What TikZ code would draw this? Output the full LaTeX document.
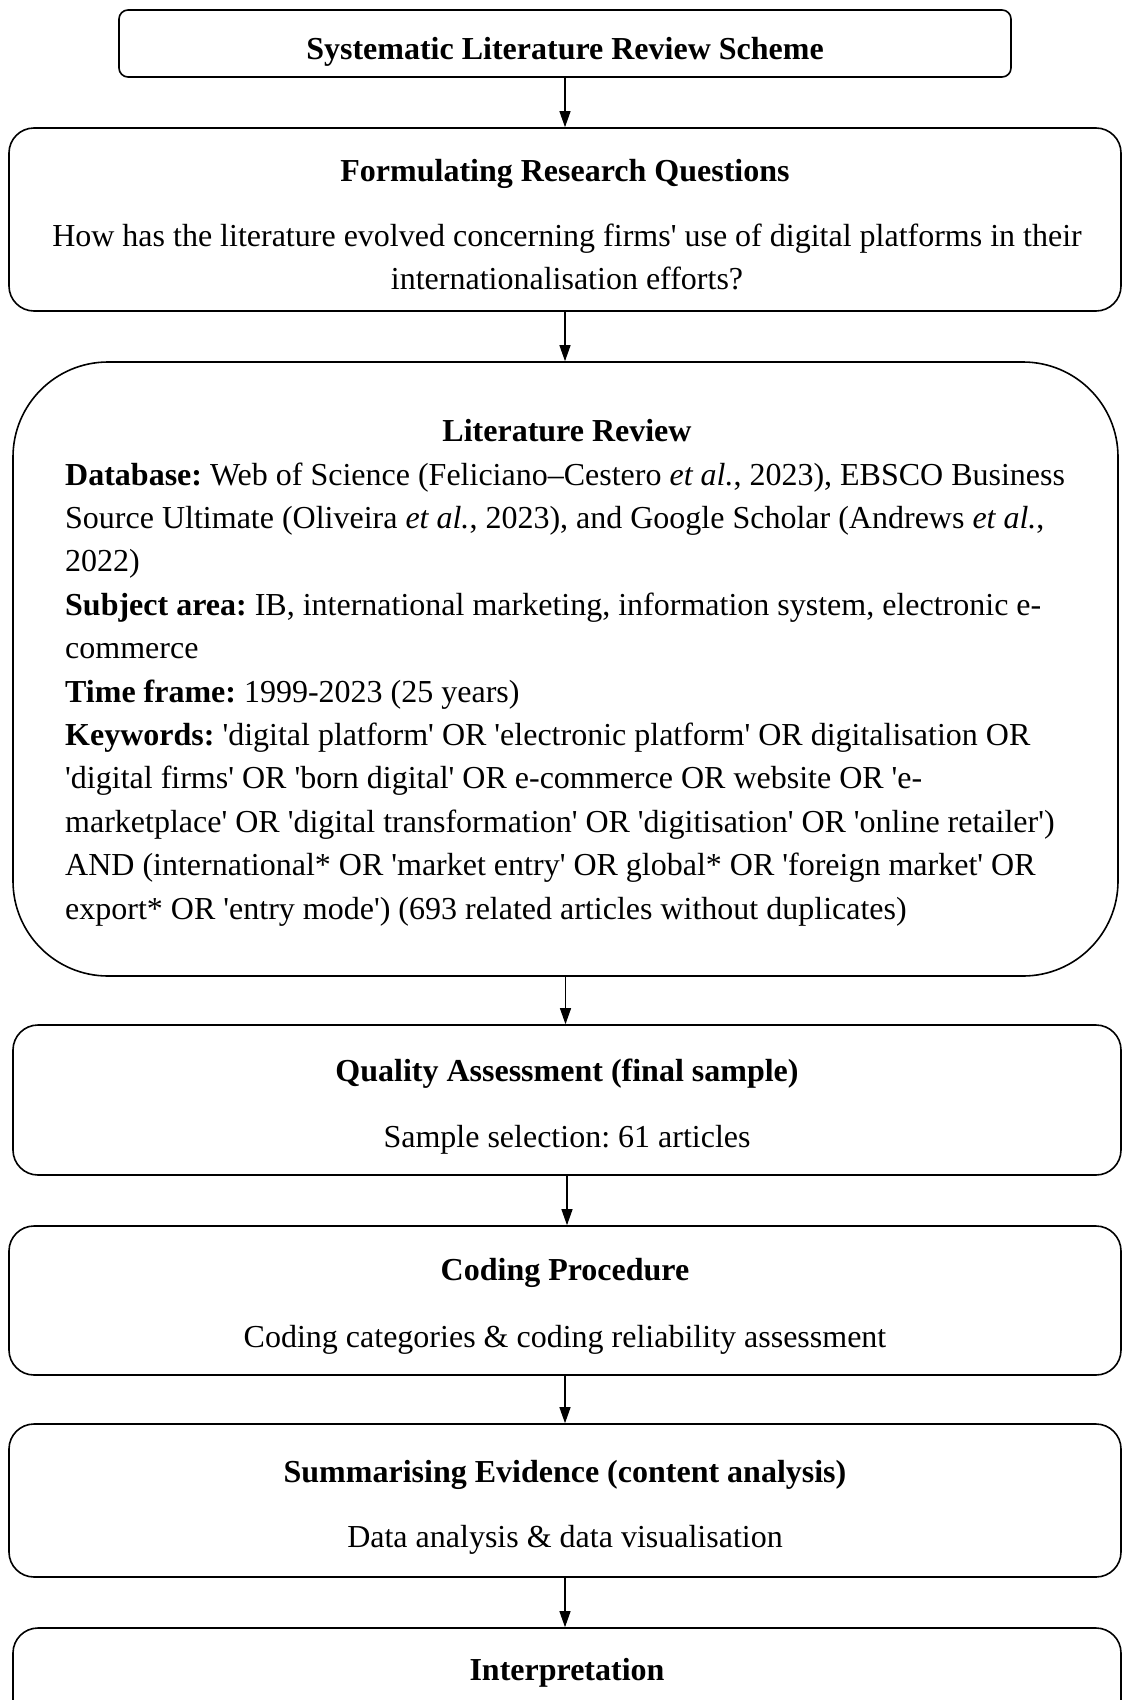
\documentclass[tikz,border=0pt]{standalone}
\usepackage{fontspec}
\setmainfont{Liberation Serif}[Ligatures=TeXOff]
\usetikzlibrary{arrows.meta}
\frenchspacing
\begin{document}
\begin{tikzpicture}[x=1pt,y=-1pt,
  font=\fontsize{32}{43.4}\selectfont\frenchspacing,
  stage/.style={draw, line width=1.6pt, rounded corners=25pt, inner sep=0pt},
  head/.style={font=\fontsize{32}{43.4}\selectfont\bfseries\frenchspacing, anchor=base, inner sep=0pt},
  body/.style={anchor=base, inner sep=0pt},
  lit/.style={anchor=base west, inner sep=0pt},
  flow/.style={line width=1.1pt, -{Triangle[length=16pt,width=11pt]}}]
\useasboundingbox (0,0) rectangle (1124,1700);
\clip (0,0) rectangle (1124,1700);

% stage boxes
\node[stage, rounded corners=9pt, minimum width=892pt, minimum height=67pt] (b1) at (565,43.5) {};
\node[stage, minimum width=1112pt, minimum height=183pt] (b2) at (565,219.5) {};
\node[stage, rounded corners=95pt, minimum width=1105pt, minimum height=614pt] (b3) at (565.5,669) {};
\node[stage, minimum width=1108pt, minimum height=150pt] (b4) at (567,1100) {};
\node[stage, minimum width=1112pt, minimum height=149pt] (b5) at (565,1300.5) {};
\node[stage, minimum width=1112pt, minimum height=153pt] (b6) at (565,1500.5) {};
\node[stage, minimum width=1108pt, minimum height=132pt] (b7) at (567,1694) {};

% headings and short descriptions
\node[head] (t1) at (565,59) {Systematic Literature Review Scheme};
\node[head] (t2) at (565,181) {Formulating Research Questions};
\node[body] (d2a) at (567,246) {How has the literature evolved concerning firms' use of digital platforms in their};
\node[body] (d2b) at (567,289) {internationalisation efforts?};
\node[head] (t3) at (567,441) {Literature Review};
\node[head] (t4) at (567,1081) {Quality Assessment (final sample)};
\node[body] (d4) at (567,1147) {Sample selection: 61 articles};
\node[head] (t5) at (565,1280) {Coding Procedure};
\node[body] (d5) at (565,1347) {Coding categories \& coding reliability assessment};
\node[head] (t6) at (565,1482) {Summarising Evidence (content analysis)};
\node[body] (d6) at (565,1547) {Data analysis \& data visualisation};
\node[head] (t7) at (567,1680) {Interpretation};

% literature review details
\node[lit] (l1) at (65,485) {\textbf{Database:} Web of Science (Feliciano–Cestero \textit{et al.}, 2023), EBSCO Business};
\node[lit] (l2) at (65,528.4) {Source Ultimate (Oliveira \textit{et al.}, 2023), and Google Scholar (Andrews \textit{et al.},};
\node[lit] (l3) at (65,571.8) {2022)};
\node[lit] (l4) at (65,615.2) {\textbf{Subject area:} IB, international marketing, information system, electronic e-};
\node[lit] (l5) at (65,658.6) {commerce};
\node[lit] (l6) at (65,702) {\textbf{Time frame:} 1999-2023 (25 years)};
\node[lit] (l7) at (65,745.4) {\textbf{Keywords:} 'digital platform' OR 'electronic platform' OR digitalisation OR};
\node[lit] (l8) at (65,788.8) {'digital firms' OR 'born digital' OR e-commerce OR website OR 'e-};
\node[lit] (l9) at (65,832.2) {marketplace' OR 'digital transformation' OR 'digitisation' OR 'online retailer')};
\node[lit] (l10) at (65,875.6) {AND (international* OR 'market entry' OR global* OR 'foreign market' OR};
\node[lit] (l11) at (65,919) {export* OR 'entry mode') (693 related articles without duplicates)};

% connectors
\draw[flow] (b1.south) -- (b1.south |- b2.north);
\draw[flow] (b2.south) -- (b2.south |- b3.north);
\draw[flow] (b3.south) -- (b3.south |- b4.north);
\draw[flow] (b4.south) -- (b4.south |- b5.north);
\draw[flow] (b5.south) -- (b5.south |- b6.north);
\draw[flow] (b6.south) -- (b6.south |- b7.north);
\end{tikzpicture}
\end{document}
